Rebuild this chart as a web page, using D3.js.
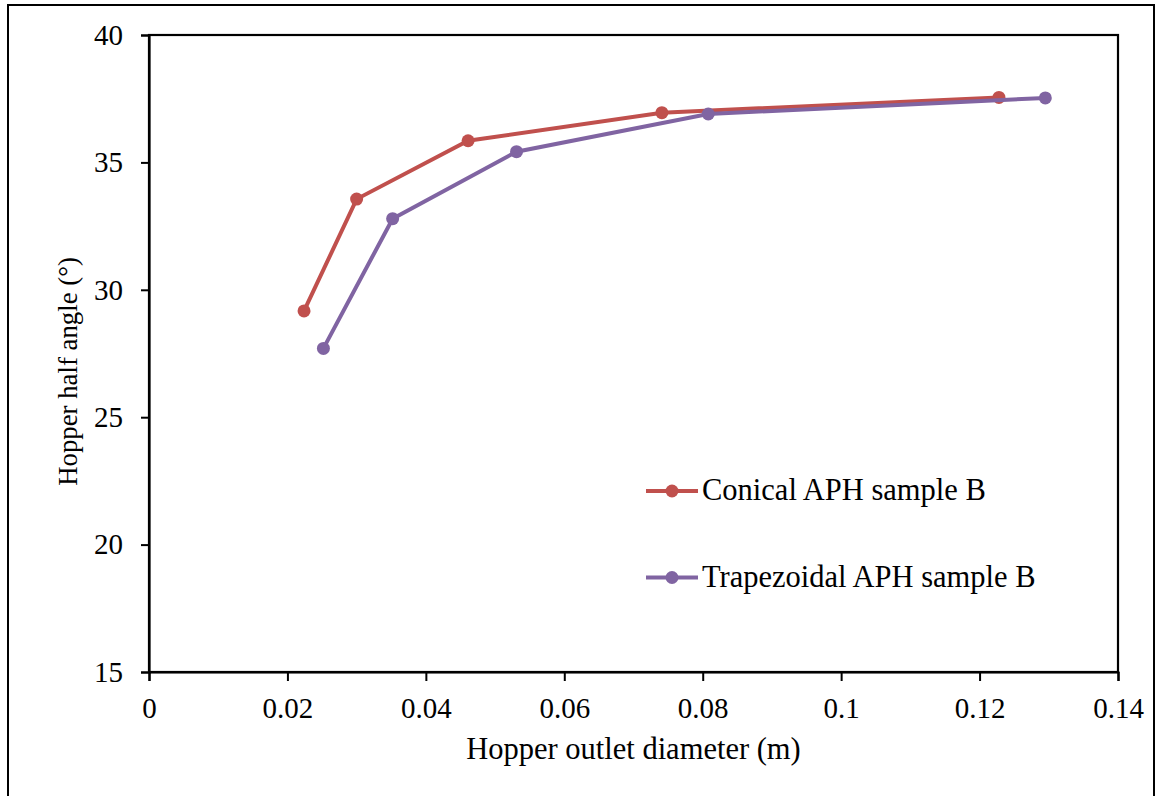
<!DOCTYPE html>
<html>
<head>
<meta charset="utf-8">
<script src="https://cdn.jsdelivr.net/npm/d3@7"></script>
<style>
  body { margin: 0; background: #fff; }
  text { font-family: "Liberation Serif", "Times New Roman", serif; fill: #000; }
</style>
</head>
<body>
<svg id="chart"></svg>
<script>
// values
const conicalX = [0.0224, 0.0300, 0.0461, 0.0741, 0.1228];
const conicalY = [29.17, 33.56, 35.85, 36.95, 37.55];
const trapezoidalX = [0.0252, 0.0352, 0.0531, 0.0808, 0.1295];
const trapezoidalY = [27.70, 32.79, 35.42, 36.90, 37.53];
const xTicks = [0, 0.02, 0.04, 0.06, 0.08, 0.1, 0.12, 0.14];
const yTicks = [15, 20, 25, 30, 35, 40];
const seriesNames = ['Conical APH sample B', 'Trapezoidal APH sample B'];
const seriesColors = ['#C0504D', '#8064A2'];

const config = {
  width: 1156,
  height: 796,
  margin: { top: 35, right: 38, bottom: 124, left: 149 },
};

const series = [
  { name: seriesNames[0], color: seriesColors[0], values: conicalX.map((x, i) => ({ x, y: conicalY[i] })) },
  { name: seriesNames[1], color: seriesColors[1], values: trapezoidalX.map((x, i) => ({ x, y: trapezoidalY[i] })) },
];

const innerW = config.width - config.margin.left - config.margin.right;
const innerH = config.height - config.margin.top - config.margin.bottom;

const svg = d3.select('#chart')
  .attr('width', config.width)
  .attr('height', config.height);

// outer frame of the figure
svg.append('rect')
  .attr('x', 8).attr('y', 5)
  .attr('width', 1146).attr('height', 820)
  .attr('fill', 'none')
  .attr('stroke', '#000')
  .attr('stroke-width', 2);

const chart = svg.append('g')
  .attr('transform', `translate(${config.margin.left},${config.margin.top})`);

const xScale = d3.scaleLinear().domain([0, 0.14]).range([0, innerW]);
const yScale = d3.scaleLinear().domain([15, 40]).range([innerH, 0]);

// plot area border
chart.append('rect')
  .attr('width', innerW).attr('height', innerH)
  .attr('fill', 'none')
  .attr('stroke', '#000')
  .attr('stroke-width', 2.2);

const xAxis = d3.axisBottom(xScale)
  .tickValues(xTicks)
  .tickSize(9)
  .tickPadding(16)
  .tickFormat((d) => d3.format('~g')(+d.toFixed(2)));

const yAxis = d3.axisLeft(yScale)
  .tickValues(yTicks)
  .tickSize(8)
  .tickPadding(18);

const xAxisG = chart.append('g')
  .attr('transform', `translate(0,${innerH})`)
  .call(xAxis);
const yAxisG = chart.append('g').call(yAxis);

[xAxisG, yAxisG].forEach((g) => {
  g.select('.domain').attr('stroke-width', 2.2);
  g.selectAll('.tick line').attr('stroke-width', 2);
  g.selectAll('.tick text')
    .attr('font-size', 29)
    .attr('font-family', '"Liberation Serif", "Times New Roman", serif');
});

// axis titles
svg.append('text')
  .attr('x', config.margin.left + innerW / 2)
  .attr('y', 759)
  .attr('text-anchor', 'middle')
  .attr('font-size', 30.5)
  .text('Hopper outlet diameter (m)');

svg.append('text')
  .attr('transform', 'translate(77,371.5) rotate(-90)')
  .attr('text-anchor', 'middle')
  .attr('font-size', 26.8)
  .text('Hopper half angle (°)');

// lines and markers
const line = d3.line()
  .x((d) => xScale(d.x))
  .y((d) => yScale(d.y));

series.forEach((s) => {
  chart.append('path')
    .datum(s.values)
    .attr('d', line)
    .attr('fill', 'none')
    .attr('stroke', s.color)
    .attr('stroke-width', 4);

  chart.selectAll(null)
    .data(s.values)
    .join('circle')
    .attr('cx', (d) => xScale(d.x))
    .attr('cy', (d) => yScale(d.y))
    .attr('r', 6.5)
    .attr('fill', s.color);
});

// legend
const legend = svg.append('g').attr('transform', 'translate(646,491)');
const legendItems = legend.selectAll('g')
  .data(series)
  .join('g')
  .attr('transform', (d, i) => `translate(0,${i * 86.5})`);

legendItems.append('line')
  .attr('x1', 0).attr('x2', 52)
  .attr('stroke', (d) => d.color)
  .attr('stroke-width', 4);

legendItems.append('circle')
  .attr('cx', 26)
  .attr('r', 6.5)
  .attr('fill', (d) => d.color);

legendItems.append('text')
  .attr('x', 56)
  .attr('y', 9)
  .attr('font-size', 30.5)
  .text((d) => d.name);
</script>
</body>
</html>
